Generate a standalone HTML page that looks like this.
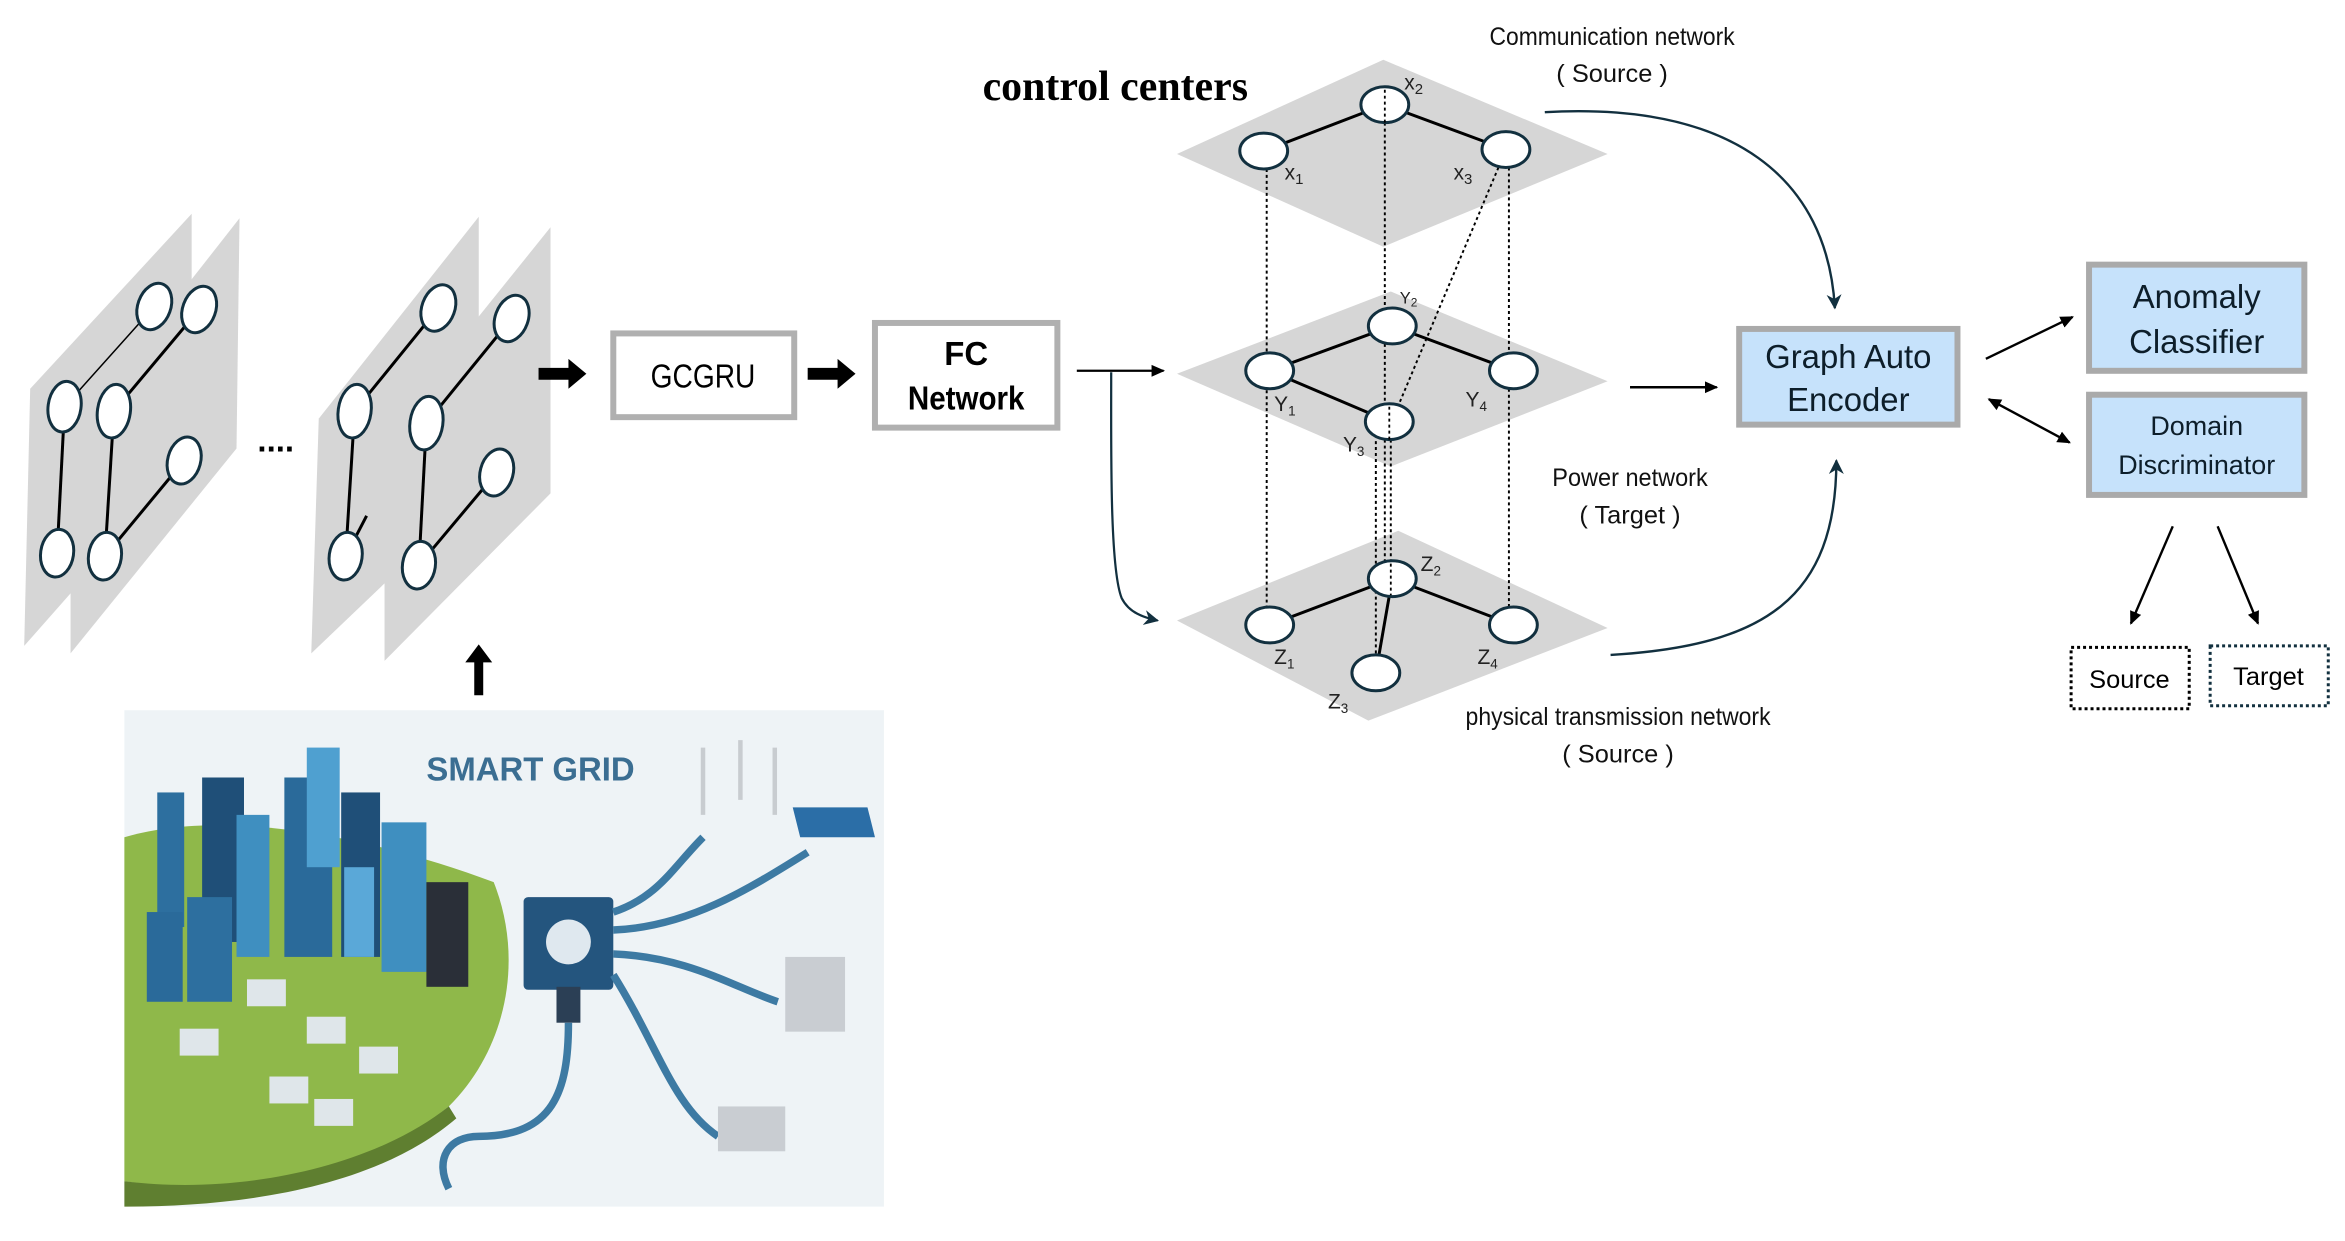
<!DOCTYPE html>
<html><head><meta charset="utf-8"><style>html,body{margin:0;padding:0;background:#fff}svg{display:block}</style></head>
<body>
<svg width="2345" height="1241" viewBox="0 0 1568 830" xmlns="http://www.w3.org/2000/svg" font-family="Liberation Sans, sans-serif">
<defs>
<marker id="ah" markerWidth="10" markerHeight="10" refX="8" refY="5" orient="auto" markerUnits="userSpaceOnUse"><path d="M0,1 L9,5 L0,9 z" fill="#000"/></marker>
<marker id="ahb" markerWidth="12" markerHeight="12" refX="9" refY="6" orient="auto" markerUnits="userSpaceOnUse"><path d="M0,1 L10,6 L0,11 L3,6 z" fill="#12303f"/></marker>
<marker id="ahs" markerWidth="10" markerHeight="10" refX="1" refY="5" orient="auto" markerUnits="userSpaceOnUse"><path d="M9,1 L0,5 L9,9 z" fill="#000"/></marker>
</defs>
<!-- left panels -->
<g fill="#d6d6d6">
<polygon points="20,260 128,143 128,305 16,432"/>
<polygon points="47,290 160,146 158,300 47,437"/>
<polygon points="213,280 320,145 320,330 208,437"/>
<polygon points="257,290 368,152 368,330 257,442"/>
</g>
<g stroke="#000" stroke-width="2" fill="none">
<line x1="103" y1="205" x2="43" y2="272" stroke-width="1"/><line x1="43" y1="272" x2="38" y2="370"/>
<line x1="133" y1="207" x2="76" y2="275"/><line x1="76" y1="275" x2="70" y2="372"/><line x1="123" y1="308" x2="70" y2="372"/>
<line x1="293" y1="206" x2="237" y2="275"/><line x1="237" y1="275" x2="231" y2="372"/><line x1="245" y1="345" x2="231" y2="372"/>
<line x1="342" y1="213" x2="285" y2="283"/><line x1="285" y1="283" x2="280" y2="378"/><line x1="332" y1="316" x2="280" y2="378"/>
</g>
<g fill="#fff" stroke="#12303f" stroke-width="2">
<ellipse cx="103" cy="205" rx="11" ry="16" transform="rotate(20 103 205)"/>
<ellipse cx="43" cy="272" rx="11" ry="17" transform="rotate(8 43 272)"/>
<ellipse cx="38" cy="370" rx="11" ry="16" transform="rotate(8 38 370)"/>
<ellipse cx="133" cy="207" rx="11" ry="16" transform="rotate(20 133 207)"/>
<ellipse cx="76" cy="275" rx="11" ry="18" transform="rotate(8 76 275)"/>
<ellipse cx="123" cy="308" rx="11" ry="16" transform="rotate(15 123 308)"/>
<ellipse cx="70" cy="372" rx="11" ry="16" transform="rotate(8 70 372)"/>
<ellipse cx="293" cy="206" rx="11" ry="16" transform="rotate(20 293 206)"/>
<ellipse cx="237" cy="275" rx="11" ry="18" transform="rotate(8 237 275)"/>
<ellipse cx="231" cy="372" rx="11" ry="16" transform="rotate(8 231 372)"/>
<ellipse cx="342" cy="213" rx="11" ry="16" transform="rotate(20 342 213)"/>
<ellipse cx="285" cy="283" rx="11" ry="18" transform="rotate(8 285 283)"/>
<ellipse cx="332" cy="316" rx="11" ry="16" transform="rotate(15 332 316)"/>
<ellipse cx="280" cy="378" rx="11" ry="16" transform="rotate(8 280 378)"/>
</g>
<text x="172" y="302" font-size="22" font-weight="bold">....</text>
<!-- thick arrows -->
<path d="M360,246 h20 v-6 l12,10 l-12,10 v-6 h-20z" fill="#000"/>
<path d="M540,246 h20 v-6 l12,10 l-12,10 v-6 h-20z" fill="#000"/>
<path d="M317,465 v-22 h-6 l9,-12 l9,12 h-6 v22z" fill="#000"/>
<!-- boxes -->
<rect x="410" y="223" width="121" height="56" fill="#fff" stroke="#b0b0b0" stroke-width="4"/>
<text x="470" y="259" font-size="22" text-anchor="middle" textLength="70" lengthAdjust="spacingAndGlyphs">GCGRU</text>
<rect x="585" y="216" width="122" height="70" fill="#fff" stroke="#b0b0b0" stroke-width="4"/>
<text x="646" y="244" font-size="22" font-weight="bold" text-anchor="middle">FC</text>
<text x="646" y="274" font-size="22" font-weight="bold" text-anchor="middle" textLength="78" lengthAdjust="spacingAndGlyphs">Network</text>
<line x1="720" y1="248" x2="778" y2="248" stroke="#000" stroke-width="1.5" marker-end="url(#ah)"/>
<path d="M743,249 C743,300 742,380 750,400 C755,410 765,413 774,415" fill="none" stroke="#12303f" stroke-width="1.5" marker-end="url(#ahb)"/>
<!-- diamonds -->
<g fill="#d6d6d6">
<polygon points="787,103 925,40 1075,103 925,165"/>
<polygon points="787,250 930,195 1075,255 930,312"/>
<polygon points="787,415 935,355 1075,420 915,482"/>
</g>
<g stroke="#000" stroke-width="1.3" stroke-dasharray="2,2" fill="none">
<line x1="847" y1="113" x2="847" y2="406"/>
<line x1="926" y1="82" x2="926" y2="376"/>
<line x1="1009" y1="112" x2="1009" y2="406"/>
<line x1="1002" y1="112" x2="928" y2="288"/>
<line x1="920" y1="295" x2="920" y2="440"/>
<line x1="930" y1="294" x2="930" y2="376"/>
</g>
<g stroke="#000" stroke-width="2">
<line x1="845" y1="101" x2="926" y2="70"/><line x1="926" y1="70" x2="1007" y2="100"/>
<line x1="849" y1="248" x2="931" y2="218"/><line x1="931" y1="218" x2="1012" y2="248"/><line x1="849" y1="248" x2="929" y2="282"/>
<line x1="849" y1="418" x2="931" y2="387"/><line x1="931" y1="387" x2="1012" y2="418"/><line x1="931" y1="387" x2="920" y2="450"/>
</g>
<g fill="#fff" stroke="#12303f" stroke-width="2">
<ellipse cx="845" cy="101" rx="16" ry="12"/><ellipse cx="926" cy="70" rx="16" ry="12"/><ellipse cx="1007" cy="100" rx="16" ry="12"/>
<ellipse cx="849" cy="248" rx="16" ry="12"/><ellipse cx="931" cy="218" rx="16" ry="12"/><ellipse cx="929" cy="282" rx="16" ry="12"/><ellipse cx="1012" cy="248" rx="16" ry="12"/>
<ellipse cx="849" cy="418" rx="16" ry="12"/><ellipse cx="931" cy="387" rx="16" ry="12"/><ellipse cx="920" cy="450" rx="16" ry="12"/><ellipse cx="1012" cy="418" rx="16" ry="12"/>
</g>
<g stroke="#000" stroke-width="1.2" stroke-dasharray="2,2"><line x1="926" y1="60" x2="926" y2="82"/><line x1="929" y1="272" x2="929" y2="294"/><line x1="930" y1="377" x2="930" y2="398"/></g>
<g font-size="14" fill="#222">
<text x="859" y="120">x<tspan font-size="10" dy="3">1</tspan></text>
<text x="939" y="60">x<tspan font-size="10" dy="3">2</tspan></text>
<text x="972" y="120">x<tspan font-size="10" dy="3">3</tspan></text>
<text x="852" y="275">Y<tspan font-size="9" dy="3">1</tspan></text>
<text x="936" y="203" font-size="11">Y<tspan font-size="8" dy="2">2</tspan></text>
<text x="898" y="302">Y<tspan font-size="9" dy="3">3</tspan></text>
<text x="980" y="272">Y<tspan font-size="9" dy="3">4</tspan></text>
<text x="852" y="444">Z<tspan font-size="9" dy="3">1</tspan></text>
<text x="950" y="382">Z<tspan font-size="9" dy="3">2</tspan></text>
<text x="888" y="474">Z<tspan font-size="9" dy="3">3</tspan></text>
<text x="988" y="444">Z<tspan font-size="9" dy="3">4</tspan></text>
</g>
<text x="657" y="67" font-family="Liberation Serif, serif" font-weight="bold" font-size="28">control centers</text>
<g font-size="17" text-anchor="middle" fill="#111">
<text x="1078" y="30" textLength="164" lengthAdjust="spacingAndGlyphs">Communication network</text>
<text x="1078" y="55">( Source )</text>
<text x="1090" y="325" textLength="104" lengthAdjust="spacingAndGlyphs">Power network</text>
<text x="1090" y="350">( Target )</text>
<text x="1082" y="485" textLength="204" lengthAdjust="spacingAndGlyphs">physical transmission network</text>
<text x="1082" y="510">( Source )</text>
</g>
<path d="M1033,75 C1160,68 1222,120 1227,206" fill="none" stroke="#12303f" stroke-width="1.6" marker-end="url(#ahb)"/>
<path d="M1077,438 C1180,432 1228,400 1228,308" fill="none" stroke="#12303f" stroke-width="1.6" marker-end="url(#ahb)"/>
<line x1="1090" y1="259" x2="1148" y2="259" stroke="#000" stroke-width="1.6" marker-end="url(#ah)"/>
<!-- right boxes -->
<rect x="1163" y="220" width="146" height="64" fill="#c6e2fb" stroke="#aaa" stroke-width="4"/>
<text x="1236" y="246" font-size="22" text-anchor="middle" fill="#0d1e2a">Graph  Auto</text>
<text x="1236" y="275" font-size="22" text-anchor="middle" fill="#0d1e2a">Encoder</text>
<rect x="1397" y="177" width="144" height="71" fill="#c6e2fb" stroke="#aaa" stroke-width="4"/>
<text x="1469" y="206" font-size="22" text-anchor="middle" fill="#0d1e2a">Anomaly</text>
<text x="1469" y="236" font-size="22" text-anchor="middle" fill="#0d1e2a">Classifier</text>
<rect x="1397" y="264" width="144" height="67" fill="#c6e2fb" stroke="#aaa" stroke-width="4"/>
<text x="1469" y="291" font-size="18" text-anchor="middle" fill="#0d1e2a">Domain</text>
<text x="1469" y="317" font-size="18" text-anchor="middle" fill="#0d1e2a">Discriminator</text>
<line x1="1328" y1="240" x2="1386" y2="212" stroke="#000" stroke-width="1.6" marker-end="url(#ah)"/>
<line x1="1330" y1="267" x2="1384" y2="296" stroke="#000" stroke-width="1.6" marker-end="url(#ah)" marker-start="url(#ahs)"/>
<line x1="1453" y1="352" x2="1425" y2="417" stroke="#000" stroke-width="1.6" marker-end="url(#ah)"/>
<line x1="1483" y1="352" x2="1510" y2="417" stroke="#000" stroke-width="1.6" marker-end="url(#ah)"/>
<rect x="1385" y="433" width="79" height="41" fill="#fff" stroke="#000" stroke-width="2" stroke-dasharray="2,2"/>
<text x="1424" y="460" font-size="17" text-anchor="middle">Source</text>
<rect x="1478" y="432" width="79" height="40" fill="#fff" stroke="#12303f" stroke-width="2" stroke-dasharray="2,2"/>
<text x="1517" y="458" font-size="17" text-anchor="middle">Target</text>
<!-- smart grid picture -->
<rect x="83" y="475" width="508" height="332" fill="#eef3f6"/>
<path d="M83,560 C150,540 250,560 330,590 C350,640 340,700 300,740 C240,790 150,800 83,790z" fill="#8fb84a"/>
<path d="M83,790 C160,800 250,780 300,740 L305,748 C250,795 160,807 83,807z" fill="#5f7f30"/>
<g fill="#2d6f9f">
<rect x="105" y="530" width="18" height="90"/><rect x="135" y="520" width="28" height="110" fill="#1f4f78"/><rect x="158" y="545" width="22" height="95" fill="#3f8fc0"/>
<rect x="190" y="520" width="32" height="120" fill="#2a6a9a"/><rect x="205" y="500" width="22" height="80" fill="#4fa0d0"/><rect x="228" y="530" width="26" height="110" fill="#1f4f78"/>
<rect x="255" y="550" width="30" height="100" fill="#3f8fc0"/><rect x="285" y="590" width="28" height="70" fill="#2a2f38"/>
<rect x="98" y="610" width="24" height="60" fill="#2a6a9a"/><rect x="125" y="600" width="30" height="70"/><rect x="230" y="580" width="20" height="60" fill="#5aa8d8"/>
</g>
<g fill="#dfe6ea"><rect x="120" y="688" width="26" height="18"/><rect x="165" y="655" width="26" height="18"/><rect x="205" y="680" width="26" height="18"/><rect x="240" y="700" width="26" height="18"/><rect x="180" y="720" width="26" height="18"/><rect x="210" y="735" width="26" height="18"/></g>
<text x="285" y="522" font-size="22" font-weight="bold" fill="#3b6e92">SMART GRID</text>
<rect x="350" y="600" width="60" height="62" rx="3" fill="#24557e"/>
<circle cx="380" cy="630" r="15" fill="#dfe8ef"/>
<rect x="372" y="660" width="16" height="24" fill="#2b3f55"/>
<g fill="none" stroke="#3d7aa3" stroke-width="5">
<path d="M380,684 C380,730 370,760 320,760 C300,760 290,775 300,795"/>
<path d="M410,610 C440,600 450,580 470,560"/><path d="M410,622 C460,620 500,595 540,570"/>
<path d="M410,638 C460,640 490,660 520,670"/><path d="M410,652 C440,700 450,740 480,760"/>
</g>
<g stroke="#c8ccd0" stroke-width="3"><line x1="470" y1="500" x2="470" y2="545"/><line x1="495" y1="495" x2="495" y2="535"/><line x1="518" y1="500" x2="518" y2="545"/></g>
<g fill="#2b6ea7"><polygon points="530,540 580,540 585,560 535,560"/></g>
<g fill="#c9cdd2"><rect x="525" y="640" width="40" height="50"/><rect x="480" y="740" width="45" height="30"/></g>
</svg>
</body></html>
